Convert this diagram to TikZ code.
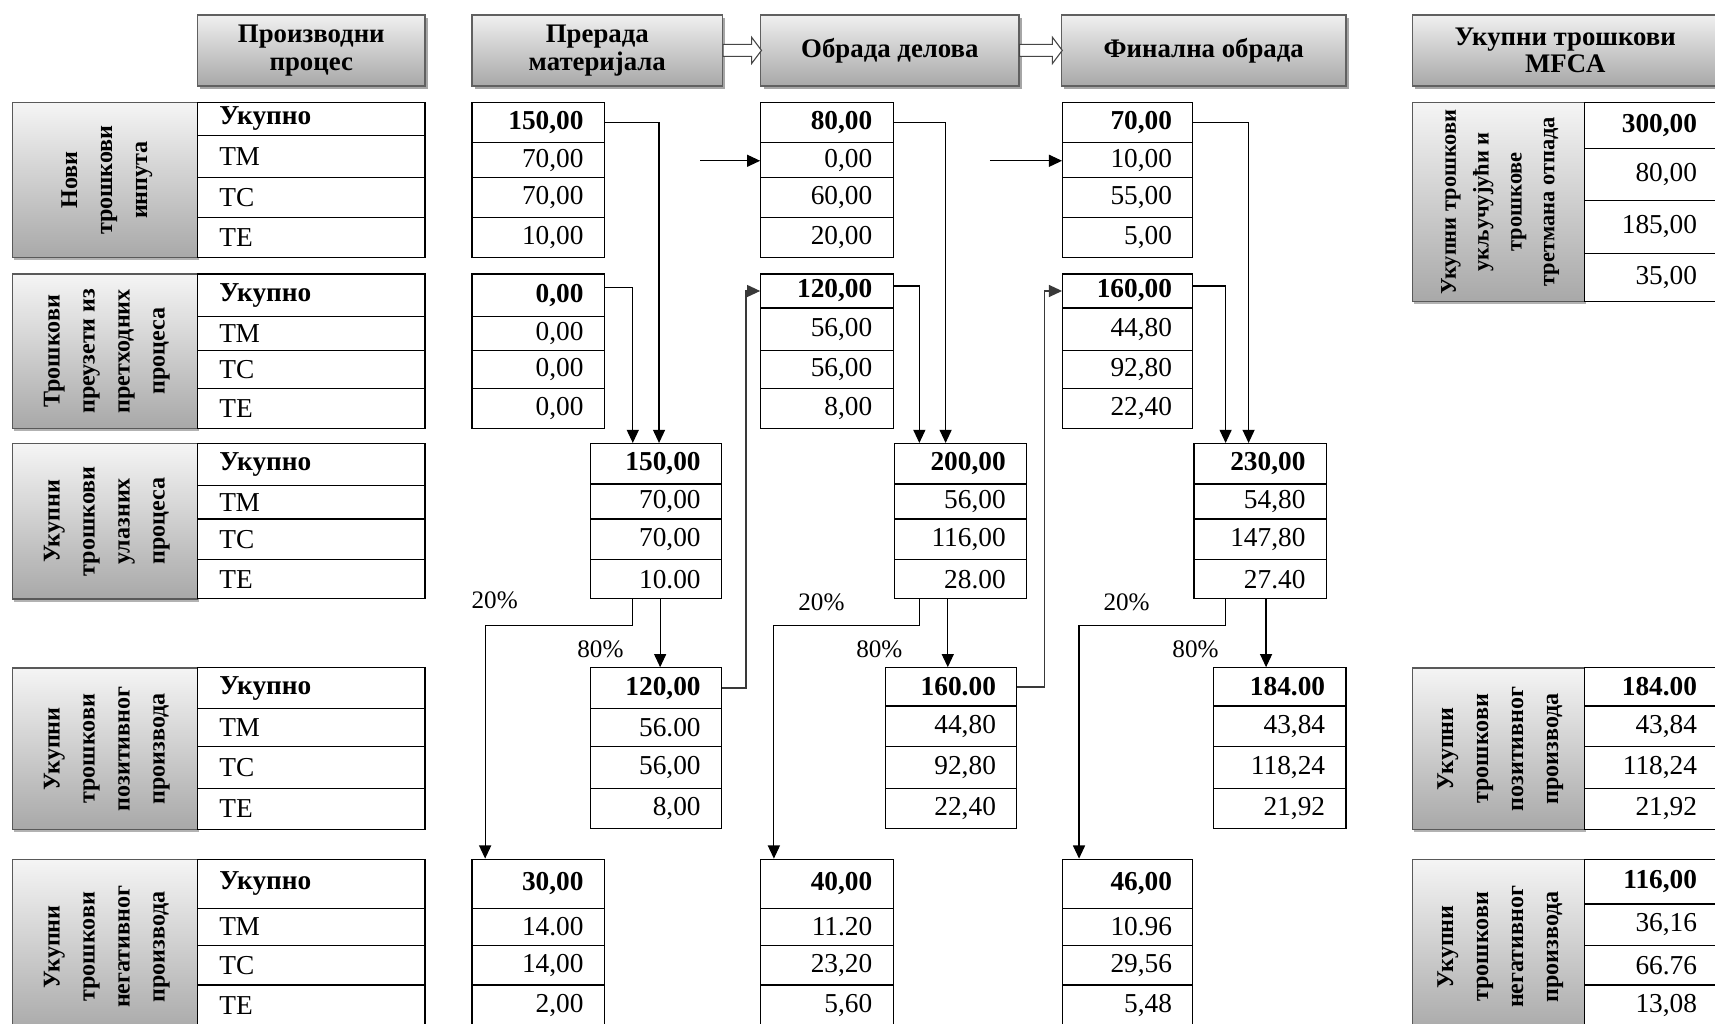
\documentclass[tikz,border=0pt]{standalone}
\usepackage{fontspec}
\setmainfont{Liberation Serif}
\usepackage{graphicx}
\usetikzlibrary{arrows.meta,shadows}

\tikzset{
  cell/.style={draw=black, line width=1.1pt, inner sep=0pt, rectangle, fill=white, font=\fontsize{25}{28}\selectfont},
  hdr/.style={draw=gray!75!black, line width=1.2pt, top color=gray!12, bottom color=gray!68,
    drop shadow={shadow xshift=2.5pt, shadow yshift=-3pt, opacity=0.35, fill=black},
    align=center, inner sep=0pt, font=\fontsize{24.5}{25}\selectfont\bfseries},
  glab/.style={draw=gray!70!black, line width=1.2pt, top color=gray!8, bottom color=gray!68,
    drop shadow={shadow xshift=1.5pt, shadow yshift=-2.5pt, opacity=0.3, fill=black}, inner sep=0pt},
  arr/.style={line width=1.1pt, -{Triangle[length=12pt,width=11pt]}},
  backln/.style={line width=1.1pt, draw=gray!45!black, -{Triangle[length=12pt,width=11pt]}},
  pct/.style={font=\fontsize{23}{25}\selectfont, inner sep=0pt},
  hollow/.style={draw=gray!55!black, line width=1pt, fill=white},
}

\def\splitys#1,#2,#3,#4,#5\relax{\def\tya{#1}\def\tyb{#2}\def\tyc{#3}\def\tyd{#4}\def\tye{#5}}

\newcommand\vcell[6]{%
  \pgfmathsetmacro\mycw{#3-#2}\pgfmathsetmacro\mych{#5-#4}%
  \node[cell, minimum width=\mycw pt, minimum height=\mych pt, anchor=north west] (#1) at (#2,#4)
    {\makebox[\dimexpr\mycw pt-38pt\relax][r]{#6}};}
\newcommand\lcell[6]{%
  \pgfmathsetmacro\mycw{#3-#2}\pgfmathsetmacro\mych{#5-#4}%
  \node[cell, minimum width=\mycw pt, minimum height=\mych pt, anchor=north west] (#1) at (#2,#4)
    {\makebox[\dimexpr\mycw pt-40pt\relax][l]{#6}};}
\newcommand\vtab[8]{\splitys#4\relax
  \vcell{#1-0}{#2}{#3}{\tya}{\tyb}{\textbf{#5}}%
  \vcell{#1-1}{#2}{#3}{\tyb}{\tyc}{#6}%
  \vcell{#1-2}{#2}{#3}{\tyc}{\tyd}{#7}%
  \vcell{#1-3}{#2}{#3}{\tyd}{\tye}{#8}}
\newcommand\ltab[2]{\splitys#2\relax
  \lcell{#1-0}{180}{388}{\tya}{\tyb}{\textbf{Укупно}}%
  \lcell{#1-1}{180}{388}{\tyb}{\tyc}{ТМ}%
  \lcell{#1-2}{180}{388}{\tyc}{\tyd}{ТС}%
  \lcell{#1-3}{180}{388}{\tyd}{\tye}{ТЕ}}
\newcommand\glabel[6]{%
  \pgfmathsetmacro\mycw{#3-#2}\pgfmathsetmacro\mych{#5-#4}%
  \node[glab, minimum width=\mycw pt, minimum height=\mych pt, anchor=north west] (#1) at (#2,#4)
    {\rotatebox{90}{#6}};}
\newcommand\vlines[1]{{\fontsize{22}{32}\selectfont\bfseries\begin{tabular}{@{}c@{}}#1\end{tabular}}}
\newcommand\vlinesS[1]{{\fontsize{20.5}{30}\selectfont\bfseries\begin{tabular}{@{}c@{}}#1\end{tabular}}}

\begin{document}
\begin{tikzpicture}[x=1pt,y=-1pt]
\useasboundingbox (0,0) rectangle (1568,936);
\clip (0,0) rectangle (1568,936);

% headers
\node[hdr, minimum width=208pt, minimum height=65pt, anchor=north west] (H0) at (180,13) {Производни\\процес};
\node[hdr, minimum width=229pt, minimum height=65pt, anchor=north west] (H1) at (431,13) {Прерада\\материјала};
\node[hdr, minimum width=236pt, minimum height=65pt, anchor=north west] (H2) at (695,13) {Обрада делова};
\node[hdr, minimum width=260pt, minimum height=65pt, anchor=north west] (H3) at (970,13) {Финална обрада};
\node[hdr, minimum width=279pt, minimum height=65pt, anchor=north west] (H4) at (1291,13) {Укупни трошкови\\MFCA};

\draw[hollow] (H1.east) ++(0,-5.5) -- ++(26,0) -- ++(0,-6.5) -- ++(9,12) -- ++(-9,12) -- ++(0,-6.5) -- ++(-26,0) -- cycle;
\draw[hollow] (H2.east) ++(0,-5.5) -- ++(30,0) -- ++(0,-6.5) -- ++(9,12) -- ++(-9,12) -- ++(0,-6.5) -- ++(-30,0) -- cycle;

% left labels
\glabel{L1}{11}{180}{93}{235}{\vlines{Нови\\трошкови\\инпута}}
\glabel{L2}{11}{180}{250}{391}{\vlines{Трошкови\\преузети из\\претходних\\процеса}}
\glabel{L3}{11}{180}{405}{547}{\vlines{Укупни\\трошкови\\улазних\\процеса}}
\glabel{L4}{11}{180}{610}{758}{\vlines{Укупни\\трошкови\\позитивног\\производа}}
\glabel{L5}{11}{180}{785}{945}{\vlines{Укупни\\трошкови\\негативног\\производа}}

\ltab{T1}{93,123,162,198,235}
\ltab{T2}{250,289,320,355,391}
\ltab{T3}{405,443,474,511,547}
\ltab{T4}{610,647,682,720,758}
\ltab{T5}{785,830,864,900,938}

% column A
\vtab{A1}{431}{552}{93,130,162,198,235}{150,00}{70,00}{70,00}{10,00}
\vtab{A2}{431}{552}{250,289,320,355,391}{0,00}{0,00}{0,00}{0,00}
\vtab{A3}{539}{659}{405,442,474,511,547}{150,00}{70,00}{70,00}{10.00}
\vtab{A4}{539}{659}{610,647,682,720,757}{120,00}{56.00}{56,00}{8,00}
\vtab{A5}{431}{552}{785,830,864,900,938}{30,00}{14.00}{14,00}{2,00}
% column B
\vtab{B1}{695}{816}{93,130,162,198,235}{80,00}{0,00}{60,00}{20,00}
\vtab{B2}{695}{816}{250,281,320,355,391}{120,00}{56,00}{56,00}{8,00}
\vtab{B3}{817}{938}{405,442,474,511,547}{200,00}{56,00}{116,00}{28.00}
\vtab{B4}{809}{929}{610,645,682,720,757}{160.00}{44,80}{92,80}{22,40}
\vtab{B5}{695}{816}{785,830,864,900,938}{40,00}{11.20}{23,20}{5,60}
% column C
\vtab{C1}{971}{1090}{93,130,162,198,235}{70,00}{10,00}{55,00}{5,00}
\vtab{C2}{971}{1090}{250,281,320,355,391}{160,00}{44,80}{92,80}{22,40}
\vtab{C3}{1091}{1212}{405,442,474,511,547}{230,00}{54,80}{147,80}{27.40}
\vtab{C4}{1109}{1230}{610,645,682,720,757}{184.00}{43,84}{118,24}{21,92}
\vtab{C5}{971}{1090}{785,830,864,900,938}{46,00}{10.96}{29,56}{5,48}

% right column
\glabel{R1L}{1291}{1448}{93}{275}{\vlinesS{Укупни трошкови\\укључујући и\\трошкове\\третмана отпада}}
\glabel{R2L}{1291}{1448}{610}{758}{\vlines{Укупни\\трошкови\\позитивног\\производа}}
\glabel{R3L}{1291}{1448}{785}{945}{\vlines{Укупни\\трошкови\\негативног\\производа}}
\vtab{R1}{1448}{1570}{93,135,183,231,275}{300,00}{80,00}{185,00}{35,00}
\vtab{R2}{1448}{1570}{610,645,682,720,758}{184.00}{43,84}{118,24}{21,92}
\vtab{R3}{1448}{1570}{785,826,864,900,938}{116,00}{36,16}{66.76}{13,08}

% connectors column A
\draw[arr] (A1-0.east) -| ([xshift=3pt]A3-0.north);
\draw[arr] ([yshift=7.5pt]A2-0.east) -| ([xshift=-21pt]A3-0.north);
\draw[arr] ([xshift=4pt]A3-3.south) -- ([xshift=4pt]A3-3.south |- A4-0.north);
\draw[arr] ([xshift=-21pt]A3-3.south) -- ++(0,24) -| ([xshift=-48.5pt]A5-0.north);
\draw[backln] (A4-0.east) -- ++(22,0) |- (B2-0.west);
\coordinate (inB) at (640,147);
\draw[arr] (inB) -- (inB -| B1-1.west);
% connectors column B
\draw[arr] (B1-0.east) -| ([xshift=-13.5pt]B3-0.north);
\draw[arr] ([yshift=4.5pt]B2-0.east) -| ([xshift=-37.5pt]B3-0.north);
\draw[arr] ([xshift=-11.5pt]B3-3.south) -- ([xshift=-11.5pt]B3-3.south |- B4-0.north);
\draw[arr] ([xshift=-37.5pt]B3-3.south) -- ++(0,24) -| ([xshift=-48.5pt]B5-0.north);
\draw[backln] (B4-0.east) -- ++(25,0) |- (C2-0.west);
\coordinate (inC) at (905,147);
\draw[arr] (inC) -- (inC -| C1-1.west);
% connectors column C
\draw[arr] (C1-0.east) -| ([xshift=-10.5pt]C3-0.north);
\draw[arr] ([yshift=4.5pt]C2-0.east) -| ([xshift=-31.5pt]C3-0.north);
\draw[arr] ([xshift=5.5pt]C3-3.south) -- ([xshift=5.5pt]C3-3.south |- C4-0.north);
\draw[arr] ([xshift=-31.5pt]C3-3.south) -- ++(0,24) -| ([xshift=-44.5pt]C5-0.north);

% percentages
\node[pct, anchor=west] (pa20) at (431,549) {20\%};
\node[pct] (pa80) at (549,594) {80\%};
\node[pct] (pb20) at (751,551) {20\%};
\node[pct] (pb80) at (804,594) {80\%};
\node[pct] (pc20) at (1030,551) {20\%};
\node[pct] (pc80) at (1093,594) {80\%};
\end{tikzpicture}
\end{document}
